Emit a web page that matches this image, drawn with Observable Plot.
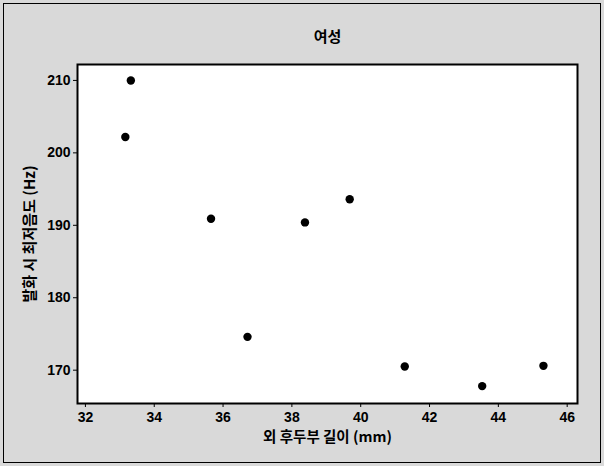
<!DOCTYPE html>
<html>
<head>
<meta charset="utf-8">
<script src="https://cdn.jsdelivr.net/npm/d3@7"></script>
<script src="https://cdn.jsdelivr.net/npm/@observablehq/plot@0.6"></script>
<style>
  html, body { margin: 0; padding: 0; background: #d9d9d9; }
  #chart svg { display: block; }
</style>
</head>
<body>
<div id="chart"></div>
<script>
// Data (women)
const lengthMm = [33.16, 33.32, 35.65, 36.71, 38.38, 39.68, 41.28, 43.53, 45.31];
const minPitchHz = [202.2, 210.0, 190.9, 174.6, 190.4, 193.6, 170.5, 167.8, 170.6];
const xTicks = [32, 34, 36, 38, 40, 42, 44, 46];
const yTicks = [170, 180, 190, 200, 210];
const titleText = "여성";
const xLabel = "외 후두부 길이 (mm)";
const yLabel = "발화 시 최저음도 (Hz)";

const points = lengthMm.map((x, i) => ({x, y: minPitchHz[i]}));

const tickFont = "'Liberation Sans', Arial, sans-serif";
const krFont = "'Noto Sans CJK KR', 'Noto Sans', sans-serif";

const chart = Plot.plot({
  width: 604,
  height: 466,
  marginLeft: 77,
  marginRight: 27,
  marginTop: 64,
  marginBottom: 63,
  style: {
    background: "#d9d9d9",
    color: "#000",
    fontFamily: tickFont,
    fontSize: "14px",
    fontWeight: "bold",
    outline: "1.5px solid #000",
    outlineOffset: "-4px"
  },
  x: {domain: [31.77, 46.3], label: null},
  y: {domain: [165.4, 212.2], label: null},
  marks: [
    Plot.frame({fill: "white", stroke: "none"}),
    Plot.axisX({ticks: xTicks, tickSize: 4, tickPadding: 5, label: null, fontSize: 14, fontWeight: "bold", fontFamily: tickFont}),
    Plot.axisY({ticks: yTicks, tickSize: 4, tickPadding: 3, label: null, fontSize: 14, fontWeight: "bold", fontFamily: tickFont}),
    Plot.dot(points, {x: "x", y: "y", r: 4.2, fill: "#000", stroke: "none"}),
    Plot.frame({stroke: "#000", strokeWidth: 2}),
    Plot.text([titleText], {frameAnchor: "top", dy: -27, lineAnchor: "middle", textAnchor: "middle", fontFamily: krFont, fontSize: 15, fontWeight: "bold", fill: "#000"}),
    Plot.text([xLabel], {frameAnchor: "bottom", dy: 34, lineAnchor: "middle", textAnchor: "middle", fontFamily: krFont, fontSize: 14.5, fontWeight: "bold", fill: "#000"}),
    Plot.text([yLabel], {frameAnchor: "left", dx: -47, rotate: -90, lineAnchor: "middle", textAnchor: "middle", fontFamily: krFont, fontSize: 15, fontWeight: "bold", fill: "#000", letterSpacing: "1.5px"})
  ]
});

document.getElementById("chart").appendChild(chart);
</script>
</body>
</html>
